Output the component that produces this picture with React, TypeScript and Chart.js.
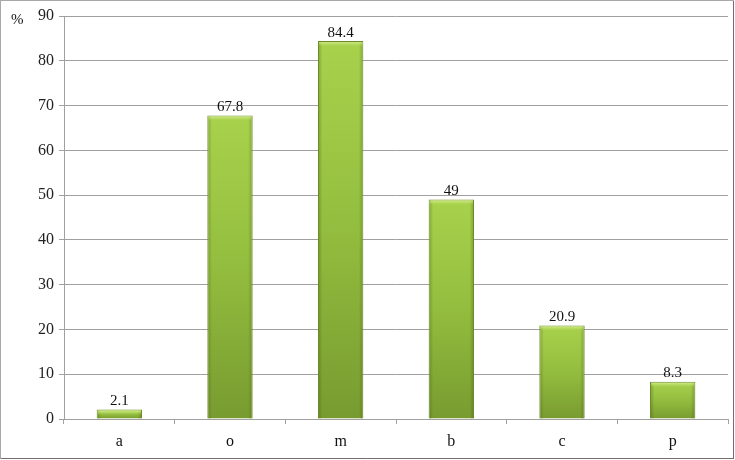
import React, { useEffect, useRef } from "react";
import { Chart, registerables } from "chart.js";

Chart.register(...registerables);

const categories = ["a", "o", "m", "b", "c", "p"];
const values = [2.1, 67.8, 84.4, 49, 20.9, 8.3];
const yTicks = [0, 10, 20, 30, 40, 50, 60, 70, 80, 90];
const yUnit = "%";

const FONT = "'Liberation Serif', 'Times New Roman', serif";
const BAR_PCT = 0.41;

export default function App() {
  const ref = useRef<HTMLCanvasElement>(null);
  useEffect(() => {
    document.body.style.margin = "0";
    const canvas = ref.current!;
    const framePlugin = {
      id: "frame",
      beforeDraw(chart: any) {
        const c = chart.ctx;
        c.save();
        c.fillStyle = "#ffffff";
        c.fillRect(0, 0, chart.width, chart.height);
        c.restore();
      },
      afterDraw(chart: any) {
        const c = chart.ctx;
        c.save();
        c.strokeStyle = "#a8a8a8";
        c.lineWidth = 1;
        c.strokeRect(0.5, 0.5, chart.width - 2, chart.height - 2);
        c.strokeStyle = "#707070";
        c.beginPath();
        c.moveTo(1, chart.height - 1.5);
        c.lineTo(chart.width - 1, chart.height - 1.5);
        c.moveTo(chart.width - 1.5, 1);
        c.lineTo(chart.width - 1.5, chart.height - 1);
        c.stroke();
        c.fillStyle = "#111";
        c.font = `15px ${FONT}`;
        c.textAlign = "left";
        c.textBaseline = "middle";
        c.fillText(yUnit, 11, 20);
        c.restore();
      },
    };
    const labelPlugin = {
      id: "labels",
      afterDatasetsDraw(chart: any) {
        const meta = chart.getDatasetMeta(0);
        const c = chart.ctx;
        c.save();
        meta.data.forEach((el: any, i: number) => {
          const x0 = el.x - el.width / 2;
          const x1 = el.x + el.width / 2;
          const hh = el.base - el.y;
          // side shading
          const sg = c.createLinearGradient(x0, 0, x1, 0);
          sg.addColorStop(0, "rgba(60,80,10,0.35)");
          sg.addColorStop(0.1, "rgba(60,80,10,0)");
          sg.addColorStop(0.9, "rgba(60,80,10,0)");
          sg.addColorStop(1, "rgba(60,80,10,0.35)");
          c.fillStyle = sg;
          c.fillRect(x0 + 1, el.y + 1, el.width - 2, hh - 1);
          // top bevel
          const h = Math.min(5, hh - 1);
          const g = c.createLinearGradient(0, el.y, 0, el.y + 5);
          g.addColorStop(0, "rgba(225,245,160,0.9)");
          g.addColorStop(1, "rgba(200,230,120,0)");
          c.fillStyle = g;
          c.fillRect(x0 + 1, el.y + 1, el.width - 2, h);
          c.fillStyle = "#111";
          c.font = `15px ${FONT}`;
          c.textAlign = "center";
          c.textBaseline = "bottom";
          c.fillText(String(values[i]), el.x, el.y - 1);
        });
        c.restore();
      },
    };
    const bg = (ctx: any) => {
      const chart = ctx.chart;
      const ys = chart.scales?.y;
      if (!ys || ctx.dataIndex === undefined) return "#9bc43f";
      const top = ys.getPixelForValue(values[ctx.dataIndex]);
      const base = ys.getPixelForValue(0);
      if (!isFinite(top) || !isFinite(base) || base <= top) return "#9bc43f";
      const g = chart.ctx.createLinearGradient(0, top, 0, base);
      g.addColorStop(0, "#a8d24c");
      g.addColorStop(0.5, "#93bd3e");
      g.addColorStop(1, "#789b30");
      return g;
    };
    const chart = new Chart(canvas, {
      type: "bar",
      data: {
        labels: categories,
        datasets: [
          {
            data: values,
            backgroundColor: bg,
            borderColor: "#6b8a28",
            borderWidth: 1,
            barPercentage: BAR_PCT,
            categoryPercentage: 1,
          },
        ],
      },
      options: {
        animation: false,
        responsive: false,
        devicePixelRatio: 1,
        layout: { padding: { top: 16, right: 7, left: 0, bottom: 0 } },
        plugins: { legend: { display: false }, tooltip: { enabled: false } },
        scales: {
          x: {
            grid: {
              offset: true,
              drawOnChartArea: false,
              drawTicks: true,
              tickLength: 5,
              color: "#a0a0a0",
            },
            border: { color: "#a0a0a0" },
            ticks: { color: "#111", font: { family: FONT, size: 16 }, padding: 8 },
            afterFit(scale: any) {
              scale.height = 41;
            },
          },
          y: {
            min: 0,
            max: 90,
            afterBuildTicks(scale: any) {
              scale.ticks = yTicks.map((v) => ({ value: v }));
            },
            grid: { color: "#a0a0a0", tickLength: 5, drawTicks: true },
            border: { color: "#a0a0a0" },
            ticks: { color: "#222", font: { family: FONT, size: 16 }, padding: 5 },
            afterFit(scale: any) {
              scale.width = 64;
            },
          },
        },
      },
      plugins: [framePlugin, labelPlugin],
    });
    return () => chart.destroy();
  }, []);
  return (
    <div style={{ position: "fixed", left: 0, top: 0, width: 735, height: 460 }}>
      <canvas ref={ref} width={735} height={460} style={{ width: 735, height: 460, display: "block" }} />
    </div>
  );
}
